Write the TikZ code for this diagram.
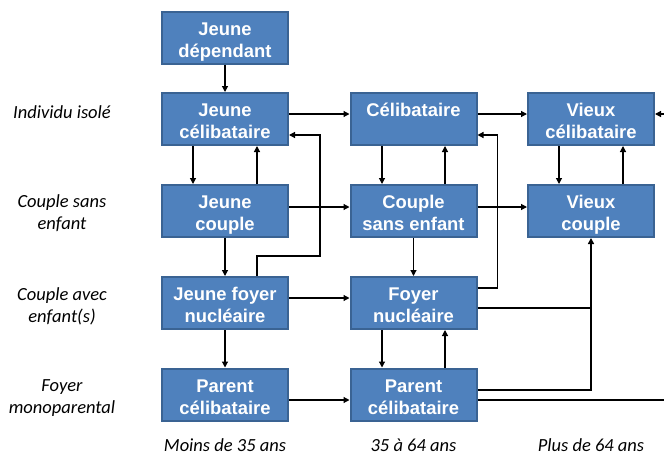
\documentclass[tikz,border=0pt]{standalone}
\usepackage{fontspec}
\setmainfont{Liberation Sans}
\newfontfamily\labfont{Carlito}
\usetikzlibrary{arrows.meta}
\definecolor{boxfill}{HTML}{4F81BD}
\definecolor{boxline}{HTML}{3A6393}
\begin{document}
\begin{tikzpicture}[x=1pt,y=-1pt,
  state/.style={draw=boxline, line width=2pt, fill=boxfill, text=white,
    minimum width=126pt, minimum height=52pt, inner sep=0pt,
    text height=39pt, text depth=0pt,
    align=center, font=\fontsize{18.4}{22}\selectfont\bfseries},
  rowlab/.style={align=center, font=\fontsize{18.5}{22}\selectfont\labfont\itshape},
  collab/.style={anchor=base, inner sep=0pt, font=\fontsize{18.5}{22}\selectfont\labfont\itshape},
  link/.style={line width=1.2pt, -{Triangle[length=6pt,width=6pt]}},
  plain/.style={line width=1.2pt}]
\useasboundingbox (0,0) rectangle (664,455);

% states, one column per age group
\node[state] (jd)  at (225,37.5)   {Jeune\\dépendant};
\node[state] (jc)  at (225,119)    {Jeune\\célibataire};
\node[state] (jcp) at (225,211)    {Jeune\\couple};
\node[state] (jfn) at (225,303)    {Jeune foyer\\nucléaire};
\node[state] (jpc) at (225,394.5)  {Parent\\célibataire};

\node[state] (cel) at (413.5,119)   {Célibataire\\\phantom{x}};
\node[state] (cse) at (413.5,211)   {Couple\\sans enfant};
\node[state] (fn)  at (413.5,303)   {Foyer\\nucléaire};
\node[state] (pc)  at (413.5,394.5) {Parent\\célibataire};

\node[state] (vc)  at (591,119) {Vieux\\célibataire};
\node[state] (vcp) at (591,211) {Vieux\\couple};

% row and column captions
\node[rowlab] (l1) at (62,112) {Individu isolé};
\node[rowlab] (l2) at (62,213) {Couple sans\\enfant};
\node[rowlab] (l3) at (62,306) {Couple avec\\enfant(s)};
\node[rowlab] (l4) at (62,398) {Foyer\\monoparental};
\node[collab] (c1) at (225,451.5)   {Moins de 35 ans};
\node[collab] (c2) at (413.5,451.5) {35 à 64 ans};
\node[collab] (c3) at (591,451.5)   {Plus de 64 ans};

% transitions within the young column
\draw[link] (jd.south) -- (jc.north);
\draw[link] ([xshift=-32pt]jc.south) -- ([xshift=-32pt]jcp.north);
\draw[link] ([xshift=32pt]jcp.north) -- ([xshift=32pt]jc.south);
\draw[link] (jcp.south) -- (jfn.north);
\draw[link] (jfn.south) -- (jpc.north);
\draw[link] ([xshift=32pt]jfn.north) -- ++(0,-20) -- ++(63,0)
  |- ([yshift=-16pt]jc.east);

% transitions within the middle column
\draw[link] ([xshift=-31.5pt]cel.south) -- ([xshift=-31.5pt]cse.north);
\draw[link] ([xshift=31.5pt]cse.north) -- ([xshift=31.5pt]cel.south);
\draw[link] (cse.south) -- (fn.north);
\draw[link] ([xshift=-31.5pt]fn.south) -- ([xshift=-31.5pt]pc.north);
\draw[link] ([xshift=31.5pt]pc.north) -- ([xshift=31.5pt]fn.south);
\draw[link] ([yshift=15pt]fn.east) -- ++(20,0) |- ([yshift=-16pt]cel.east);

% transitions within the old column
\draw[link] ([xshift=-32pt]vc.south) -- ([xshift=-32pt]vcp.north);
\draw[link] ([xshift=32pt]vcp.north) -- ([xshift=32pt]vc.south);
\coordinate (vin) at (664,114);
\draw[link] (vin) -- ([yshift=5pt]vc.east);

% ageing: young to middle
\draw[link] ([yshift=5pt]jc.east) -- ([yshift=5pt]cel.west);
\draw[link] ([yshift=4pt]jcp.east) -- ([yshift=4pt]cse.west);
\draw[link] ([yshift=5pt]jfn.east) -- ([yshift=5pt]fn.west);
\draw[link] ([yshift=-5.5pt]jpc.east) -- ([yshift=-5.5pt]pc.west);

% ageing: middle to old
\draw[link] ([yshift=5pt]cel.east) -- ([yshift=5pt]vc.west);
\draw[link] ([yshift=4pt]cse.east) -- ([yshift=4pt]vcp.west);
\draw[link, line width=1.6pt] ([yshift=4.5pt]pc.east) -| (vcp.south);
\draw[plain] ([yshift=-5pt]fn.east) -- ([yshift=-5pt]fn.east -| vcp.south);
\coordinate (pout) at (664,400);
\draw[plain] ([yshift=-5.5pt]pc.east) -- (pout);
\end{tikzpicture}
\end{document}
